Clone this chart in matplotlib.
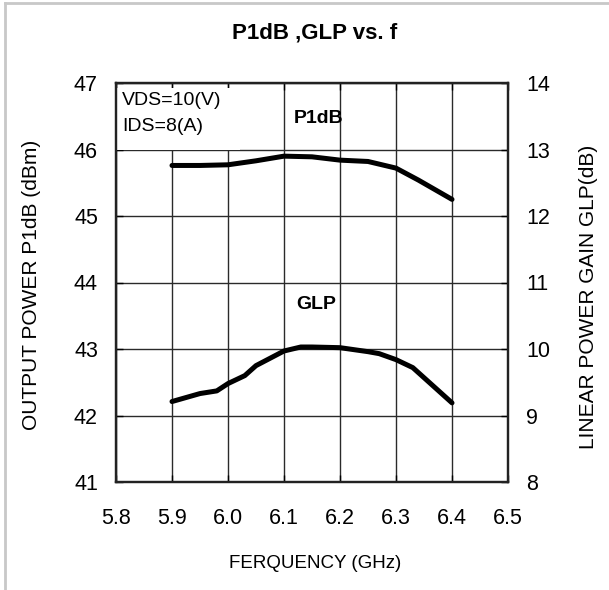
import matplotlib
matplotlib.use("Agg")
import matplotlib.pyplot as plt
from matplotlib.lines import Line2D
from matplotlib.patches import Rectangle

plt.rcParams['font.family'] = ['Liberation Sans', 'DejaVu Sans']

freq_p1db = [5.90, 5.95, 6.00, 6.05, 6.10, 6.15, 6.20, 6.25, 6.30, 6.34, 6.40]
p1db = [45.76, 45.76, 45.77, 45.83, 45.90, 45.89, 45.84, 45.82, 45.72, 45.54, 45.25]

freq_glp = [5.90, 5.95, 5.98, 6.00, 6.03, 6.05, 6.10, 6.13, 6.15, 6.20, 6.25, 6.27, 6.30, 6.33, 6.40]
glp = [9.21, 9.33, 9.37, 9.48, 9.60, 9.75, 9.97, 10.03, 10.03, 10.02, 9.96, 9.93, 9.84, 9.72, 9.19]

x_ticks = [5.8, 5.9, 6.0, 6.1, 6.2, 6.3, 6.4, 6.5]
left_ticks = [41, 42, 43, 44, 45, 46, 47]
right_ticks = [8, 9, 10, 11, 12, 13, 14]

fig = plt.figure(figsize=(6.09, 5.90), dpi=100)
W, H = 609, 590
ax = fig.add_axes([116 / W, 1 - 482 / H, (508 - 116) / W, (482 - 83) / H])
ax2 = ax.twinx()

ax.set_xlim(5.8, 6.5)
ax.set_ylim(41, 47)
ax2.set_ylim(8, 14)
ax.set_xticks(x_ticks)
ax.set_xticklabels([f"{v:.1f}" for v in x_ticks])
ax.set_yticks(left_ticks)
ax2.set_yticks(right_ticks)

ax.grid(True, color='#2a2a2a', linewidth=1.0)
ax.set_axisbelow(True)

for a in (ax, ax2):
    for s in a.spines.values():
        s.set_linewidth(1.6)
        s.set_color('#222222')
ax.tick_params(axis='both', direction='in', length=5, width=1, labelsize=15.5, pad=13,
               top=True)
ax.tick_params(axis='x', pad=19)
ax2.tick_params(axis='y', direction='in', length=5, width=1, labelsize=15.5, pad=13)

# white box behind the condition text
ax.add_patch(Rectangle((5.8, 45.985), 0.221, 0.935, facecolor='white', edgecolor='none',
                       zorder=1.5))

ax.plot(freq_p1db, p1db, color='black', linewidth=3.6, solid_capstyle='round', zorder=3)
ax2.plot(freq_glp, glp, color='black', linewidth=3.6, solid_capstyle='round', zorder=3)

ax.text(5.811, 46.73, "VDS=10(V)", fontsize=14, va='center', ha='left', zorder=4)
ax.text(5.811, 46.35, "IDS=8(A)", fontsize=14, va='center', ha='left', zorder=4)
ax.text(6.1625, 46.46, "P1dB", fontsize=14, fontweight='bold', ha='center', va='center')
ax.text(6.157, 43.67, "GLP", fontsize=14, fontweight='bold', ha='center', va='center')

fig.text(315 / W, 1 - 33 / H, "P1dB ,GLP vs. f", fontsize=16, fontweight='bold',
         ha='center', va='center')
fig.text(315 / W, 1 - 563 / H, "FERQUENCY (GHz)", fontsize=13.5, ha='center', va='center')
fig.text(32 / W, 1 - 285 / H, "OUTPUT POWER P1dB (dBm)", fontsize=15, rotation=90,
         ha='center', va='center')
fig.text(588 / W, 1 - 297 / H, "LINEAR POWER GAIN GLP(dB)", fontsize=15, rotation=90,
         ha='center', va='center')

# figure border (top and left)
fig.add_artist(Line2D([4.5 / W, 1.0], [1 - 2.5 / H, 1 - 2.5 / H], transform=fig.transFigure,
                      color='#c8c8c8', linewidth=2))
fig.add_artist(Line2D([4.5 / W, 4.5 / W], [0, 1 - 2.5 / H], transform=fig.transFigure,
                      color='#c8c8c8', linewidth=2))

fig.savefig("out.png", dpi=100, facecolor='white')
